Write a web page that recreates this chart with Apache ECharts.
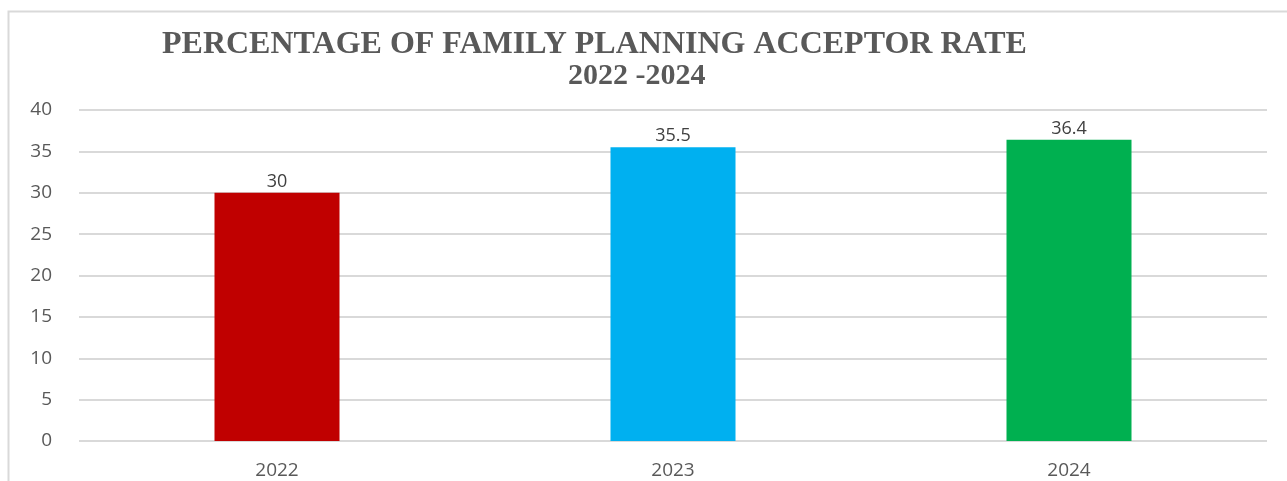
<!DOCTYPE html>
<html>
<head>
<meta charset="utf-8">
<script src="https://cdn.jsdelivr.net/npm/echarts@6/dist/echarts.min.js"></script>
<style>
  html, body { margin: 0; padding: 0; background: #ffffff; }
  #chart { width: 1287px; height: 481px; }
</style>
</head>
<body>
<div id="chart"></div>
<script>
// data
var years = ['2022', '2023', '2024'];
var rates = [30, 35.5, 36.4];
var barColors = ['#c00000', '#00b0f0', '#00b050'];
var yTicks = [0, 5, 10, 15, 20, 25, 30, 35, 40];

var chart = echarts.init(document.getElementById('chart'));

chart.setOption({
  backgroundColor: '#ffffff',
  animation: false,
  title: [
    {
      text: 'PERCENTAGE OF FAMILY PLANNING ACCEPTOR RATE',
      left: 157,
      top: 24,
      textStyle: { fontFamily: 'Liberation Serif', fontWeight: 'bold', fontSize: 32, color: '#595959' }
    },
    {
      text: '2022 -2024',
      left: 563,
      top: 56,
      textStyle: { fontFamily: 'Liberation Serif', fontWeight: 'bold', fontSize: 30, color: '#595959' }
    }
  ],
  graphic: [
    {
      type: 'rect',
      shape: { x: 8.5, y: 11.5, width: 1400, height: 600 },
      style: { fill: 'none', stroke: '#d9d9d9', lineWidth: 2 },
      silent: true
    }
  ],
  grid: { left: 79, right: 20, top: 110, bottom: 40 },
  xAxis: {
    type: 'category',
    data: years,
    axisLine: { show: false },
    axisTick: { show: false },
    axisLabel: { color: '#595959', fontFamily: 'Open Sans', fontSize: 19, margin: 20 }
  },
  yAxis: {
    type: 'value',
    min: yTicks[0],
    max: yTicks[yTicks.length - 1],
    interval: 5,
    axisLine: { show: false },
    axisTick: { show: false },
    axisLabel: { color: '#595959', fontFamily: 'Open Sans', fontSize: 19, margin: 27 },
    splitLine: { lineStyle: { color: '#d9d9d9', width: 2 } }
  },
  series: [
    {
      type: 'bar',
      barWidth: 125,
      data: rates.map(function (v, i) {
        return { value: v, itemStyle: { color: barColors[i] } };
      }),
      label: {
        show: true,
        position: 'top',
        distance: 2,
        color: '#404040',
        fontFamily: 'Open Sans',
        fontSize: 18
      }
    }
  ]
});
</script>
</body>
</html>
